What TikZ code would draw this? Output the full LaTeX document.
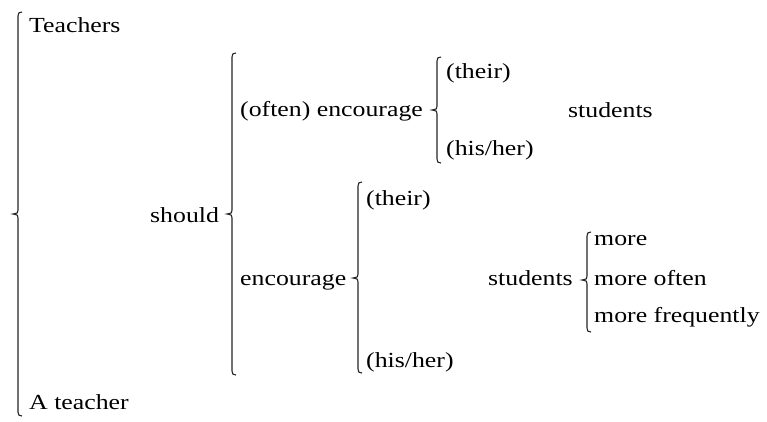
\documentclass[tikz,border=0pt]{standalone}
\usepackage{fontspec}
\setmainfont[FakeStretch=1.2]{Liberation Serif}
\newcommand{\drawbrace}[4]{%
  \draw[bracestyle] ({#1+4},#2) .. controls ({#1+1},#2) and (#1,{#2+1}) .. (#1,{#2+4})
    -- (#1,{#3-4}) .. controls (#1,{#3-1}) .. ({#1-5},#3)
    .. controls (#1,{#3+1}) .. (#1,{#3+4})
    -- (#1,{#4-4}) .. controls (#1,{#4-1}) and ({#1+1},#4) .. ({#1+4},#4);}
\begin{document}
\begin{tikzpicture}[x=1pt,y=-1pt,
  bracestyle/.style={line width=1.1pt,black!85},
  word/.style={anchor=base west,inner sep=0pt,font=\fontsize{21.5}{24}\selectfont}]
\useasboundingbox[fill=white] (0,0) rectangle (767,421);
% brace 1
\drawbrace{18}{12}{214}{416}
\node[word] (teachers) at (29,32) {Teachers};
\node[word] (ateacher) at (29,409) {A teacher};
% brace 2
\node[word] (should) at (150,222) {should};
\drawbrace{232}{53}{214}{375}
% upper branch
\node[word] (oftenenc) at (240,116) {(often) encourage};
\drawbrace{437}{57}{110}{163}
\node[word] (their1) at (446,78) {(their)};
\node[word] (hisher1) at (446,155) {(his/her)};
\node[word] (students1) at (568,117) {students};
% lower branch
\node[word] (enc) at (240,285) {encourage};
\drawbrace{358}{182}{278}{373}
\node[word] (their2) at (366,205) {(their)};
\node[word] (hisher2) at (366,367) {(his/her)};
\node[word] (students2) at (488,285) {students};
\drawbrace{587}{232}{280}{332}
\node[word] (more) at (594,245) {more};
\node[word] (moreoften) at (594,285) {more often};
\node[word] (morefreq) at (594,322) {more frequently};
\end{tikzpicture}
\end{document}
